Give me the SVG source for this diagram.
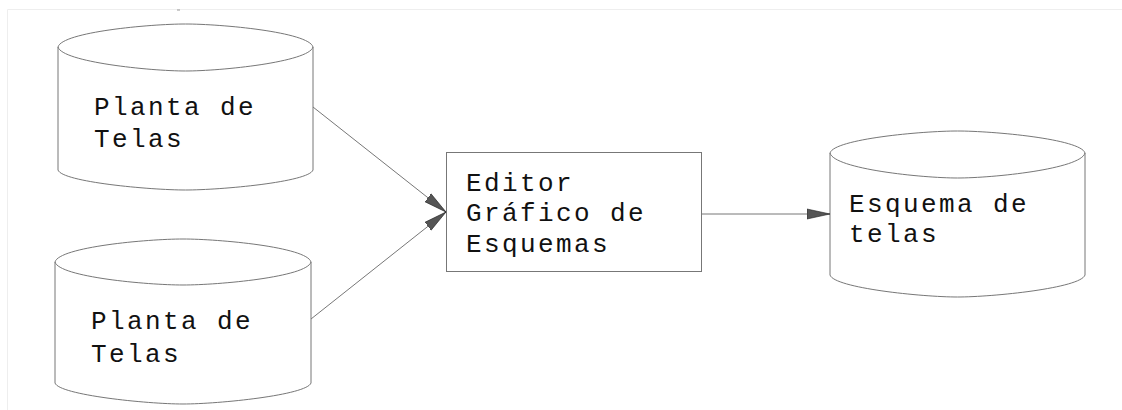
<svg xmlns="http://www.w3.org/2000/svg" width="1122" height="410" viewBox="0 0 1122 410">
<style>
.shape{fill:#fff;stroke:#777;stroke-width:1}
.edge{fill:none;stroke:#777;stroke-width:1}
.lbl{font-family:"Liberation Mono","Courier New",monospace;font-size:26px;letter-spacing:2.4px;fill:#111}
</style>
<defs>
<marker id="ah" markerWidth="24" markerHeight="12" refX="23" refY="6" orient="auto" markerUnits="userSpaceOnUse">
<path d="M0,1 L23,6 L0,11 Z" fill="#555" stroke="#222" stroke-width="0.6"/>
</marker>
</defs>
<rect x="0" y="0" width="1122" height="410" fill="#fff"/>
<path d="M7.5,410 L7.5,9.5 L1122,9.5" fill="none" stroke="#eee" stroke-width="1"/>
<line x1="177" y1="10" x2="180" y2="10" stroke="#999" stroke-width="1"/>
<g id="cyl1">
<path class="shape" d="M58,47 C62,32 150,24 185.5,24 C221,24 309,32 313,47 L313,170 C309,182 221,190 185.5,190 C150,190 62,182 58,170 Z"/>
<path class="edge" d="M58,47 C62,62 150,71 185.5,71 C221,71 309,62 313,47"/>
<text class="lbl" x="94" y="115">Planta de</text>
<text class="lbl" x="94" y="147">Telas</text>
</g>
<g id="cyl2">
<path class="shape" d="M55,262 C59,247 147,239 183,239 C219,239 307,247 311,262 L311,383 C307,395 219,404 183,404 C147,404 59,395 55,383 Z"/>
<path class="edge" d="M55,262 C59,277 147,285 183,285 C219,285 307,277 311,262"/>
<text class="lbl" x="91" y="329">Planta de</text>
<text class="lbl" x="91" y="362">Telas</text>
</g>
<g id="editor">
<rect class="shape" x="446.5" y="152.5" width="255" height="119"/>
<text class="lbl" x="466" y="191">Editor</text>
<text class="lbl" x="466" y="221">Gráfico de</text>
<text class="lbl" x="466" y="252">Esquemas</text>
</g>
<g id="cyl3">
<path class="shape" d="M830,153 C834,139 922,131 957.5,131 C993,131 1081,139 1085,153 L1085,275 C1081,288 993,297 957.5,297 C922,297 834,288 830,275 Z"/>
<path class="edge" d="M830,153 C834,169 922,178 957.5,178 C993,178 1081,169 1085,153"/>
<text class="lbl" x="849" y="212">Esquema de</text>
<text class="lbl" x="849" y="242">telas</text>
</g>
<g id="connectors">
<line class="edge" x1="313" y1="107" x2="446" y2="212" marker-end="url(#ah)"/>
<line class="edge" x1="311" y1="319" x2="446" y2="212" marker-end="url(#ah)"/>
<line class="edge" x1="702" y1="214" x2="830" y2="214" marker-end="url(#ah)"/>
</g>
</svg>
